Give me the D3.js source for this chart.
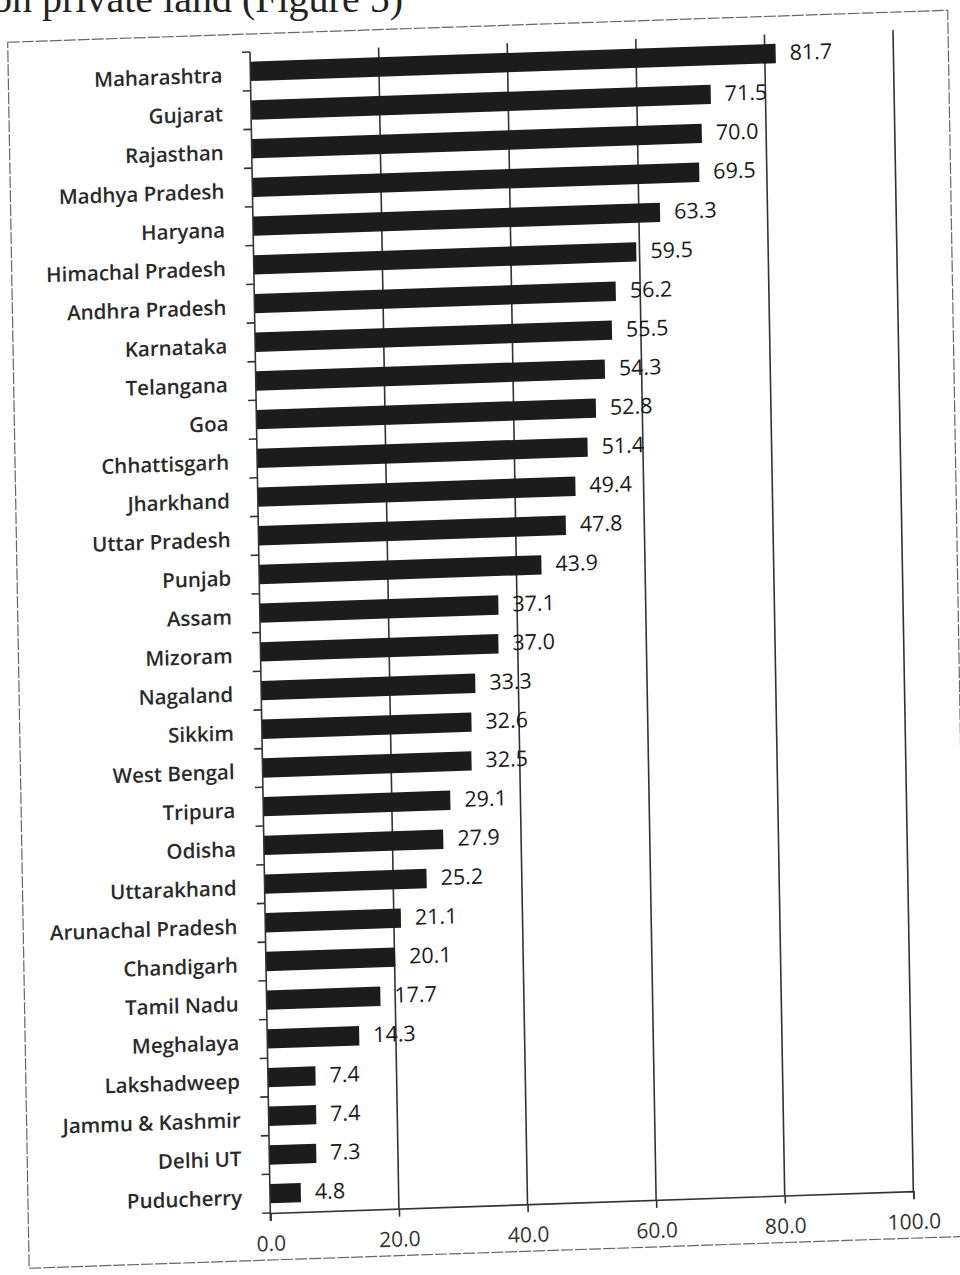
<!DOCTYPE html>
<html lang="en">
<head>
  <meta charset="UTF-8">
  <title>Private land share by state</title>
  <script src="https://d3js.org/d3.v7.min.js"></script>
</head>
<style>
  body{
    margin:0;
    background:white;
  }
  /* chart text looks like Calibri in the scan, Open Sans is the closest here */
  .cat text{
    font-family: "Open Sans", sans-serif;
    font-size: 20.5px;
    font-weight: 600;
    fill: #2a2a2a;
  }
  .xax text{
    font-family: "Open Sans", sans-serif;
    font-size: 21px;
    fill: #333;
  }
  .val{
    font-family: "Open Sans", sans-serif;
    font-size: 21.5px;
    fill: #1a1a1a;
  }
</style>
<body>
  <div id="chart"></div>
</body>
<script>
// chart values, top to bottom
var states = ["Maharashtra","Gujarat","Rajasthan","Madhya Pradesh","Haryana",
  "Himachal Pradesh","Andhra Pradesh","Karnataka","Telangana","Goa",
  "Chhattisgarh","Jharkhand","Uttar Pradesh","Punjab","Assam","Mizoram",
  "Nagaland","Sikkim","West Bengal","Tripura","Odisha","Uttarakhand",
  "Arunachal Pradesh","Chandigarh","Tamil Nadu","Meghalaya","Lakshadweep",
  "Jammu & Kashmir","Delhi UT","Puducherry"];
var values = [81.7,71.5,70.0,69.5,63.3,59.5,56.2,55.5,54.3,52.8,51.4,49.4,47.8,
  43.9,37.1,37.0,33.3,32.6,32.5,29.1,27.9,25.2,21.1,20.1,17.7,14.3,7.4,7.4,7.3,4.8];
var xTicks = [0,20,40,60,80,100];

var data = states.map(function(s,i){ return {state:s, value:values[i]}; });

var plotW = 643;
var plotH = 1161;
var lineCol = "#333";

var svg = d3.select("#chart").append("svg")
  .attr("width",960)
  .attr("height",1275);

// caption line from the page above the figure (cut off by the scan)
svg.append("text")
  .attr("x",-8)
  .attr("y",12)
  .attr("font-family","Liberation Serif, serif")
  .attr("font-size",40)
  .attr("fill","#222")
  .text("on private land (Figure 5)");

// the scanned page is a bit skewed, so the whole figure is sheared to match
var g = svg.append("g")
  .attr("transform","matrix(1,-0.034,0.0175,1,250,52)");

// outer frame
g.append("rect")
  .attr("x",-242)
  .attr("y",-18)
  .attr("width",940)
  .attr("height",1226)
  .attr("fill","none")
  .attr("stroke","#666")
  .attr("stroke-width",1.2)
  .attr("stroke-dasharray","12 2");

var xScale = d3.scaleLinear()
  .domain([0,100])
  .range([0,plotW]);

var yScale = d3.scaleBand()
  .domain(states)
  .range([0,plotH])
  .paddingInner(0.5)
  .paddingOuter(0.25);

// vertical gridlines
g.append("g").selectAll("line")
  .data(xTicks.slice(1))
  .enter()
  .append("line")
    .attr("x1",function(d){ return xScale(d); })
    .attr("x2",function(d){ return xScale(d); })
    .attr("y1",0)
    .attr("y2",plotH)
    .attr("stroke",lineCol)
    .attr("stroke-width",1.6);

// bars
g.append("g").selectAll("rect")
  .data(data)
  .enter()
  .append("rect")
    .attr("x",xScale(0))
    .attr("y",function(d){ return yScale(d.state); })
    .attr("width",function(d){ return xScale(d.value) - xScale(0); })
    .attr("height",yScale.bandwidth())
    .attr("fill","#1c1c1c");

// value labels
g.append("g").selectAll("text")
  .data(data)
  .enter()
  .append("text")
    .attr("class","val")
    .attr("x",function(d){ return xScale(d.value) + 14; })
    .attr("y",function(d){ return yScale(d.state) + yScale.bandwidth()/2 + 7; })
    .text(function(d){ return d.value.toFixed(1); });

// x axis with ticks hanging below
var xAxis = d3.axisBottom(xScale)
  .tickValues(xTicks)
  .tickFormat(d3.format(".1f"))
  .tickSize(8)
  .tickPadding(15);

var xg = g.append("g")
  .attr("class","xax")
  .attr("transform","translate(0," + plotH + ")")
  .call(xAxis);
xg.select(".domain").attr("stroke",lineCol).attr("stroke-width",1.6);
xg.selectAll(".tick line").attr("stroke",lineCol).attr("stroke-width",1.6);

// category axis: labels at band centres, ticks between bands
var yAxis = d3.axisLeft(yScale)
  .tickSize(0)
  .tickPadding(28);

var yg = g.append("g")
  .attr("class","cat")
  .call(yAxis);
yg.select(".domain").remove();
yg.selectAll(".tick text").attr("dy","0.5em");

var step = yScale.step();
var bounds = states.map(function(s){ return yScale(s) - step*0.25; });
bounds.push(plotH);

g.append("line")
  .attr("x1",0).attr("x2",0)
  .attr("y1",0).attr("y2",plotH + 8)
  .attr("stroke",lineCol)
  .attr("stroke-width",1.6);

g.append("g").selectAll("line")
  .data(bounds)
  .enter()
  .append("line")
    .attr("x1",-8)
    .attr("x2",0)
    .attr("y1",function(d){ return d; })
    .attr("y2",function(d){ return d; })
    .attr("stroke",lineCol)
    .attr("stroke-width",1.6);
</script>
</html>
